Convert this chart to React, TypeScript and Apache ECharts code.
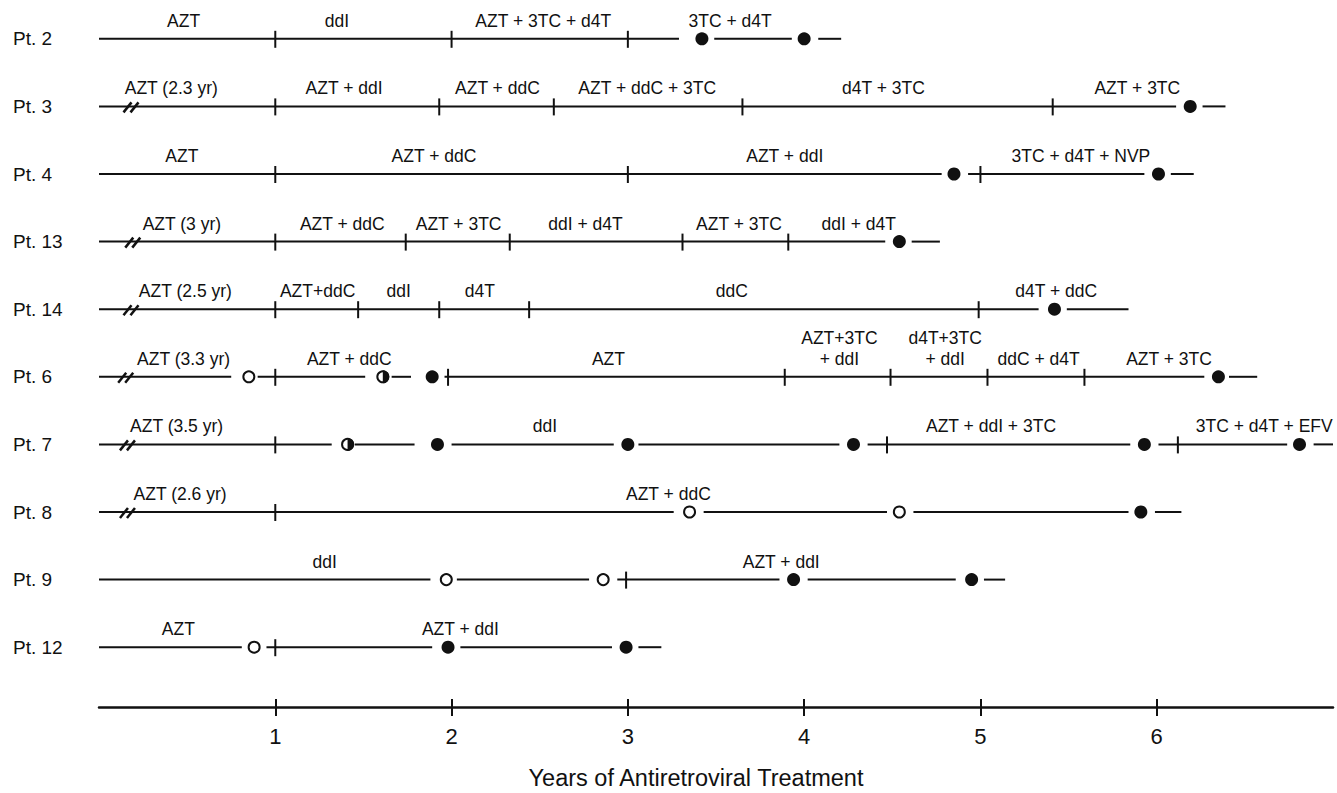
import { useEffect, useRef } from "react";
import * as echarts from "echarts";

const INK = "#111111";
const FONT = "'Liberation Sans', Arial, Helvetica, sans-serif";

const patients = ["Pt. 2", "Pt. 3", "Pt. 4", "Pt. 13", "Pt. 14", "Pt. 6", "Pt. 7", "Pt. 8", "Pt. 9", "Pt. 12"];

const xTicks = [1, 2, 3, 4, 5, 6];
const xTitle = "Years of Antiretroviral Treatment";

// drawn pieces of each treatment line [start, end] (years)
const segments: number[][][] = [
  [[0, 3.29], [3.49, 3.93], [4.08, 4.21]],
  [[0, 6.11], [6.26, 6.39]],
  [[0, 4.78], [4.93, 5.93], [6.08, 6.21]],
  [[0, 4.46], [4.61, 4.77]],
  [[0, 5.33], [5.49, 5.84]],
  [[0, 0.75], [0.9, 1.51], [1.66, 1.77], [1.96, 6.27], [6.41, 6.57]],
  [[0, 1.32], [1.45, 1.79], [2.0, 2.92], [3.06, 4.2], [4.36, 5.85], [6.01, 6.74], [6.89, 7.0]],
  [[0, 3.26], [3.43, 4.47], [4.62, 5.84], [5.99, 6.14]],
  [[0, 1.88], [2.03, 2.78], [2.94, 3.86], [4.02, 4.86], [5.02, 5.14]],
  [[0, 0.81], [0.95, 1.89], [2.05, 2.91], [3.06, 3.19]],
];

// regimen switch marks (years)
const switches: number[][] = [
  [1, 2, 3],
  [1, 1.93, 2.58, 3.65, 5.41],
  [1, 3, 5],
  [1, 1.74, 2.33, 3.31, 3.91],
  [1, 1.47, 1.93, 2.44, 4.99],
  [1, 1.98, 3.89, 4.49, 5.04, 5.59],
  [1, 4.47, 6.12],
  [1],
  [2.99],
  [1],
];

// axis-break marks (years), null = none
const breaks: (number | null)[] = [null, 0.19, null, 0.2, 0.19, 0.16, 0.17, 0.17, null, null];

// filled circles (years)
const filledDots: number[][] = [
  [3.42, 4.0],
  [6.19],
  [4.85, 6.01],
  [4.54],
  [5.42],
  [1.89, 6.35],
  [1.92, 3.0, 4.28, 5.93, 6.81],
  [5.91],
  [3.94, 4.95],
  [1.98, 2.99],
];

// open circles (years)
const openDots: number[][] = [[], [], [], [], [], [0.85], [], [3.35, 4.54], [1.97, 2.86], [0.88]];

// half-filled circles (years)
const halfDots: number[][] = [[], [], [], [], [], [1.61], [1.41], [], [], []];

// regimen labels [center (years), text]
const regimens: [number, string][][] = [
  [[0.48, "AZT"], [1.35, "ddI"], [2.52, "AZT + 3TC + d4T"], [3.58, "3TC + d4T"]],
  [[0.41, "AZT (2.3 yr)"], [1.39, "AZT + ddI"], [2.26, "AZT + ddC"], [3.11, "AZT + ddC + 3TC"], [4.45, "d4T + 3TC"], [5.89, "AZT + 3TC"]],
  [[0.47, "AZT"], [1.9, "AZT + ddC"], [3.89, "AZT + ddI"], [5.57, "3TC + d4T + NVP"]],
  [[0.47, "AZT (3 yr)"], [1.38, "AZT + ddC"], [2.04, "AZT + 3TC"], [2.76, "ddI + d4T"], [3.63, "AZT + 3TC"], [4.31, "ddI + d4T"]],
  [[0.49, "AZT (2.5 yr)"], [1.24, "AZT+ddC"], [1.7, "ddI"], [2.16, "d4T"], [3.59, "ddC"], [5.43, "d4T + ddC"]],
  [[0.48, "AZT (3.3 yr)"], [1.42, "AZT + ddC"], [2.89, "AZT"], [4.2, "AZT+3TC\n+ ddI"], [4.8, "d4T+3TC\n+ ddI"], [5.33, "ddC + d4T"], [6.07, "AZT + 3TC"]],
  [[0.44, "AZT (3.5 yr)"], [2.53, "ddI"], [5.06, "AZT + ddI + 3TC"], [6.61, "3TC + d4T + EFV"]],
  [[0.46, "AZT (2.6 yr)"], [3.23, "AZT + ddC"]],
  [[1.28, "ddI"], [3.87, "AZT + ddI"]],
  [[0.45, "AZT"], [2.05, "AZT + ddI"]],
];

export default function App() {
  const ref = useRef<HTMLDivElement>(null);

  useEffect(() => {
    const chart = echarts.init(ref.current!, null, { renderer: "svg" });

    const segData = segments.flatMap((segs, r) => segs.map(([a, b]) => [a, b, r]));
    const tickData = switches.flatMap((xs, r) => xs.map((x) => [x, r]));
    const breakData = breaks.flatMap((x, r) => (x == null ? [] : [[x, r]]));
    const filledData = filledDots.flatMap((xs, r) => xs.map((x) => [x, r]));
    const openData = openDots.flatMap((xs, r) => xs.map((x) => [x, r]));
    const halfData = halfDots.flatMap((xs, r) => xs.map((x) => [x, r]));
    const labelData = regimens.flatMap((ls, r) => ls.map(([x, t]) => ({ value: [x, r], name: t })));

    const option: any = {
      animation: false,
      backgroundColor: "#ffffff",
      grid: { left: 99, right: 4, top: 5, height: 676 },
      xAxis: [
        {
          type: "value",
          min: 0,
          max: 7,
          interval: 1,
          offset: 26,
          axisLine: { show: true, lineStyle: { color: INK, width: 2.5 } },
          axisTick: { show: true, customValues: xTicks, length: 9, lineStyle: { color: INK, width: 2 } },
          axisLabel: { customValues: xTicks, fontFamily: FONT, fontSize: 22, color: INK, margin: 18 },
          splitLine: { show: false },
        },
        {
          type: "value",
          min: 0,
          max: 7,
          interval: 1,
          offset: 26,
          position: "bottom",
          axisLine: { show: false },
          axisTick: { show: true, inside: true, customValues: xTicks, length: 8, lineStyle: { color: INK, width: 2 } },
          axisLabel: { show: false },
          splitLine: { show: false },
        },
      ],
      yAxis: {
        type: "category",
        data: patients,
        inverse: true,
        axisLine: { show: false },
        axisTick: { show: false },
        splitLine: { show: false },
        axisLabel: { align: "left", margin: 86, fontFamily: FONT, fontSize: 19, color: INK },
      },
      graphic: [
        {
          type: "text",
          x: 696,
          y: 778,
          style: { text: xTitle, fontFamily: FONT, fontSize: 23.5, fill: INK, textAlign: "center", textVerticalAlign: "middle" },
        },
      ],
      series: [
        {
          type: "custom",
          name: "segments",
          data: segData,
          encode: { x: [0, 1], y: 2 },
          silent: true,
          renderItem: (_p: any, api: any) => {
            const p0 = api.coord([api.value(0), api.value(2)]);
            const p1 = api.coord([api.value(1), api.value(2)]);
            return {
              type: "line",
              shape: { x1: p0[0], y1: p0[1], x2: p1[0], y2: p1[1] },
              style: { stroke: INK, lineWidth: 2 },
            };
          },
        },
        {
          type: "custom",
          name: "switches",
          data: tickData,
          encode: { x: 0, y: 1 },
          silent: true,
          renderItem: (_p: any, api: any) => {
            const [cx, cy] = api.coord([api.value(0), api.value(1)]);
            return {
              type: "line",
              shape: { x1: cx, y1: cy - 8, x2: cx, y2: cy + 9 },
              style: { stroke: INK, lineWidth: 2 },
            };
          },
        },
        {
          type: "custom",
          name: "breaks",
          data: breakData,
          encode: { x: 0, y: 1 },
          silent: true,
          renderItem: (_p: any, api: any) => {
            const [cx, cy] = api.coord([api.value(0), api.value(1)]);
            return {
              type: "group",
              children: [
                { type: "line", shape: { x1: cx - 9, y1: cy + 6, x2: cx - 1, y2: cy - 4 }, style: { stroke: INK, lineWidth: 2.5 } },
                { type: "line", shape: { x1: cx - 2, y1: cy + 6, x2: cx + 6, y2: cy - 4 }, style: { stroke: INK, lineWidth: 2.5 } },
              ],
            };
          },
        },
        {
          type: "scatter",
          name: "filled",
          data: filledData,
          symbol: "circle",
          symbolSize: 13,
          itemStyle: { color: INK, opacity: 1 },
          silent: true,
          z: 5,
        },
        {
          type: "scatter",
          name: "open",
          data: openData,
          symbol: "circle",
          symbolSize: 11,
          itemStyle: { color: "#ffffff", borderColor: INK, borderWidth: 2, opacity: 1 },
          silent: true,
          z: 5,
        },
        {
          type: "custom",
          name: "half",
          data: halfData,
          encode: { x: 0, y: 1 },
          silent: true,
          z: 5,
          renderItem: (_p: any, api: any) => {
            const [cx, cy] = api.coord([api.value(0), api.value(1)]);
            return {
              type: "group",
              children: [
                { type: "circle", shape: { cx, cy, r: 5.5 }, style: { fill: "#ffffff", stroke: INK, lineWidth: 2 } },
                {
                  type: "sector",
                  shape: { cx, cy, r0: 0, r: 6.5, startAngle: -Math.PI / 2, endAngle: Math.PI / 2, clockwise: true },
                  style: { fill: INK },
                },
              ],
            };
          },
        },
        {
          type: "scatter",
          name: "labels",
          data: labelData,
          symbol: "circle",
          symbolSize: 1,
          itemStyle: { color: "rgba(0,0,0,0)", opacity: 1 },
          silent: true,
          label: {
            show: true,
            position: "top",
            distance: 7,
            formatter: (p: any) => p.name,
            fontFamily: FONT,
            fontSize: 17.5,
            lineHeight: 21,
            color: INK,
            opacity: 1,
            align: "center",
          },
        },
      ],
    };

    chart.setOption(option);
    return () => chart.dispose();
  }, []);

  return (
    <div
      ref={ref}
      style={{ position: "fixed", left: 0, top: 0, width: 1337, height: 793, background: "#ffffff" }}
    />
  );
}
